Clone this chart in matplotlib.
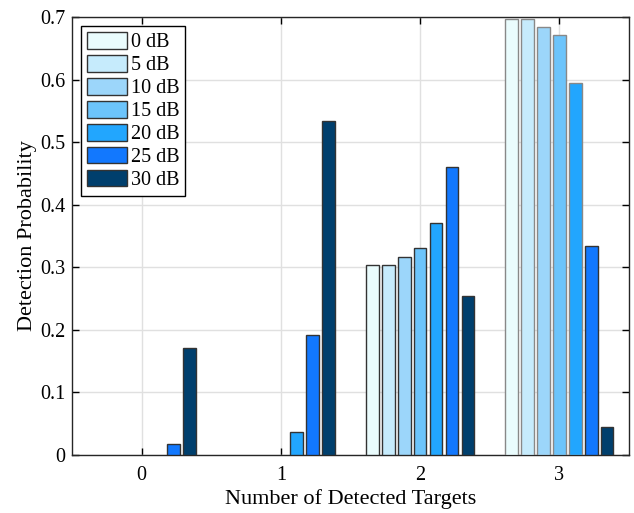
import numpy as np
import matplotlib
matplotlib.use("Agg")
import matplotlib.pyplot as plt

plt.rcParams['font.family'] = ['Liberation Serif', 'DejaVu Serif']
plt.rcParams['font.size'] = 14

targets = [0, 1, 2, 3]
snr_labels = ["0 dB", "5 dB", "10 dB", "15 dB", "20 dB", "25 dB", "30 dB"]
prob = {
    "0 dB":  [0.0, 0.0, 0.304, 0.697],
    "5 dB":  [0.0, 0.0, 0.304, 0.697],
    "10 dB": [0.0, 0.0, 0.317, 0.684],
    "15 dB": [0.0, 0.0, 0.331, 0.671],
    "20 dB": [0.0, 0.037, 0.371, 0.595],
    "25 dB": [0.017, 0.191, 0.461, 0.334],
    "30 dB": [0.171, 0.534, 0.254, 0.044],
}
colors = ["#EAFCFD", "#C6EBFC", "#9CD6FA", "#6CC4FB", "#22A6FE", "#1278FE", "#003F6D"]

fig = plt.figure(figsize=(6.34, 5.13), dpi=100)
ax = fig.add_axes([72/634, 1-455/513, 557/634, 438/513])

nb = len(snr_labels)
pitch = 0.8 / nb
width = pitch * 0.8
x = np.array(targets, dtype=float)
for i, lab in enumerate(snr_labels):
    vals = np.array(prob[lab])
    mask = vals > 0
    offs = x + (i - (nb - 1) / 2) * pitch
    # group 3's lighter bars have a grey outline in the original
    ecs = ["#888888" if (t == 3 and i < 5) else "#333333" for t in targets]
    ax.bar(offs[mask], vals[mask], width, color=colors[i],
           edgecolor=[e for e, m in zip(ecs, mask) if m], linewidth=1.0,
           zorder=3)

handles = [matplotlib.patches.Patch(facecolor=c, edgecolor="#333333", label=l)
           for c, l in zip(colors, snr_labels)]
leg = ax.legend(handles=handles, loc="upper left", fancybox=False,
                edgecolor="black", framealpha=1, fontsize=14.5,
                handlelength=2.0, handleheight=0.9, handletextpad=0.17,
                labelspacing=0.13, borderpad=0.3, borderaxespad=0.45)
leg.get_frame().set_linewidth(1.0)

ax.set_xlim(-0.5, 3.5)
ax.set_ylim(0, 0.7)
ax.set_xticks(targets)
ax.set_yticks(np.arange(0, 0.71, 0.1))
ax.set_yticklabels(["0", "0.1", "0.2", "0.3", "0.4", "0.5", "0.6", "0.7"])
ax.grid(True, color="#E0E0E0", linewidth=1.0, zorder=0)
ax.set_axisbelow(True)
ax.tick_params(direction="in", top=True, right=True, length=5, width=1, labelsize=14.5)
ax.tick_params(axis="x", pad=8)
ax.tick_params(axis="y", pad=5)
for s in ax.spines.values():
    s.set_linewidth(1.0)
    s.set_color("#262626")
ax.set_xlabel("Number of Detected Targets", fontsize=16, labelpad=3)
ax.set_ylabel("Detection Probability", fontsize=16, labelpad=2)

fig.savefig("out.png", dpi=100)
